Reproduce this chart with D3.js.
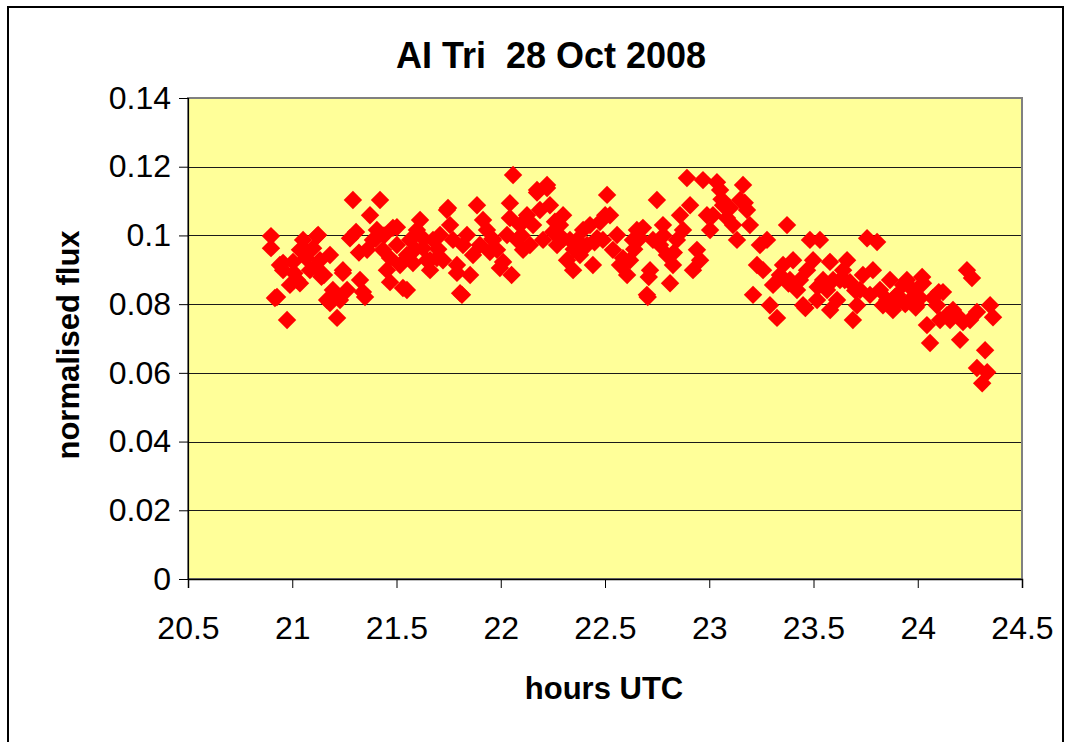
<!DOCTYPE html>
<html>
<head>
<meta charset="utf-8">
<script src="https://cdn.jsdelivr.net/npm/d3@7"></script>
<style>
  html, body { margin: 0; padding: 0; background: #ffffff; }
  svg { display: block; }
  text { font-family: "Liberation Sans", Arial, sans-serif; }
</style>
</head>
<body>
<svg id="chart" width="1074" height="742"></svg>
<script>
// ---- data ----
const title = "AI Tri  28 Oct 2008";
const xLabel = "hours UTC";
const yLabel = "normalised flux";
const xTicks = [20.5, 21, 21.5, 22, 22.5, 23, 23.5, 24, 24.5];
const xTickLabels = ["20.5", "21", "21.5", "22", "22.5", "23", "23.5", "24", "24.5"];
const yTicks = [0, 0.02, 0.04, 0.06, 0.08, 0.1, 0.12, 0.14];
const yTickLabels = ["0", "0.02", "0.04", "0.06", "0.08", "0.1", "0.12", "0.14"];

const hours = [
  20.898, 20.898, 20.917, 20.941, 20.956, 20.927, 20.975, 20.989, 21.004, 21.023,
  21.037, 21.052, 21.066, 21.085, 21.100, 21.119, 21.133, 21.152, 21.167, 21.181,
  21.195, 21.215, 21.229, 21.243, 21.263, 21.277, 21.291, 21.306, 21.325, 21.339,
  21.359, 21.373, 21.387, 21.406, 21.421, 21.435, 21.454, 21.469, 21.483, 21.502,
  21.517, 21.531, 21.550, 21.565, 21.579, 21.598, 21.613, 21.627, 21.646, 21.661,
  21.675, 21.694, 21.709, 21.723, 21.742, 21.757, 21.771, 21.790, 21.805, 21.819,
  21.838, 21.853, 21.867, 21.886, 21.900, 21.915, 21.934, 21.948, 21.963, 21.982,
  21.996, 22.011, 22.030, 22.044, 22.059, 22.078, 22.092, 22.107, 22.126, 22.140,
  22.155, 22.174, 22.188, 22.203, 22.222, 22.236, 22.251, 22.270, 22.284, 22.299,
  22.318, 22.332, 22.347, 22.366, 22.380, 22.395, 22.414, 22.428, 22.442, 22.462,
  22.476, 22.490, 22.510, 22.524, 22.538, 22.558, 22.572, 22.586, 22.606, 22.620,
  22.634, 22.653, 22.668, 22.682, 22.701, 22.716, 22.730, 22.749, 22.764, 22.778,
  22.797, 22.812, 22.826, 22.845, 22.860, 22.874, 22.893, 22.908, 22.922, 22.941,
  22.956, 22.970, 22.989, 23.004, 23.018, 23.037, 23.052, 23.066, 23.085, 23.100,
  23.114, 23.133, 23.148, 23.162, 23.181, 23.195, 23.210, 23.229, 23.243, 23.258,
  23.277, 23.291, 23.306, 23.325, 23.339, 23.354, 23.373, 23.387, 23.402, 23.421,
  23.435, 23.450, 23.469, 23.483, 23.498, 23.517, 23.531, 23.546, 23.565, 23.579,
  23.594, 23.613, 23.627, 23.642, 23.661, 23.675, 23.689, 23.709, 23.723, 23.737,
  23.757, 23.771, 23.785, 23.805, 23.819, 23.833, 23.853, 23.867, 23.881, 23.901,
  23.915, 23.929, 23.948, 23.963, 23.977, 23.996, 24.011, 24.025, 24.044, 24.059,
  24.073, 24.092, 24.107, 24.121, 24.140, 24.155, 24.169, 24.188, 24.203, 24.217,
  24.236, 24.251, 24.260, 24.284, 24.284, 24.309, 24.323, 24.333, 24.347, 24.361,
  21.349, 21.550, 21.814, 21.181, 21.124, 21.502, 21.747, 20.956, 21.037, 21.243,
  21.661, 21.790, 21.469, 23.059, 23.170, 23.461, 23.580, 22.044, 22.222, 22.174,
  22.592, 22.501, 22.052, 22.705, 22.710, 24.021, 24.101,
  21.010, 21.060, 21.110, 21.140, 21.320, 21.400, 21.440, 21.590, 21.630, 21.700,
  21.960, 22.100, 22.260, 22.300, 22.350, 22.450, 22.640, 22.780, 22.830, 23.380,
  23.520, 23.650, 23.700, 23.890, 23.940, 23.990
];
const flux = [
  0.0998, 0.0963, 0.0818, 0.0914, 0.0899, 0.0821, 0.0754, 0.0856, 0.0923, 0.0870,
  0.0958, 0.0987, 0.0934, 0.0899, 0.0963, 0.0998, 0.0928, 0.0885, 0.0812, 0.0943,
  0.0841, 0.0760, 0.0812, 0.0899, 0.0841, 0.0992, 0.1103, 0.1010, 0.0870, 0.0835,
  0.0958, 0.1059, 0.0987, 0.1016, 0.1103, 0.0958, 0.0899, 0.0934, 0.1022, 0.0972,
  0.0914, 0.0847, 0.0943, 0.0987, 0.0920, 0.1016, 0.1045, 0.0963, 0.0928, 0.0899,
  0.0987, 0.0934, 0.1001, 0.0928, 0.1074, 0.1030, 0.0987, 0.0914, 0.0832, 0.0972,
  0.1001, 0.0885, 0.0943, 0.1088, 0.0972, 0.1045, 0.1016, 0.0952, 0.0987, 0.0958,
  0.0905, 0.0923, 0.1001, 0.1051, 0.1176, 0.0987, 0.1030, 0.0958, 0.1059, 0.0972,
  0.1030, 0.1132, 0.1074, 0.0987, 0.1138, 0.1088, 0.1010, 0.0972, 0.1030, 0.1059,
  0.0928, 0.0987, 0.0899, 0.0987, 0.0943, 0.1016, 0.0972, 0.1030, 0.0914, 0.0992,
  0.1039, 0.0987, 0.1118, 0.1059, 0.0958, 0.1001, 0.0914, 0.0934, 0.0885, 0.0928,
  0.0987, 0.1016, 0.0992, 0.1022, 0.0827, 0.0899, 0.0987, 0.1103, 0.0972, 0.1030,
  0.0943, 0.0861, 0.0914, 0.0987, 0.1059, 0.1016, 0.1167, 0.1088, 0.0899, 0.0958,
  0.0928, 0.1161, 0.1059, 0.1016, 0.1059, 0.1155, 0.1132, 0.1088, 0.1051, 0.1080,
  0.1030, 0.0987, 0.1103, 0.1147, 0.1074, 0.1030, 0.0827, 0.0914, 0.0972, 0.0899,
  0.0987, 0.0797, 0.0856, 0.0760, 0.0885, 0.0914, 0.1030, 0.0870, 0.0928, 0.0841,
  0.0870, 0.0797, 0.0899, 0.0987, 0.0928, 0.0812, 0.0987, 0.0870, 0.0841, 0.0923,
  0.0870, 0.0812, 0.0870, 0.0899, 0.0928, 0.0864, 0.0754, 0.0797, 0.0841, 0.0885,
  0.0992, 0.0827, 0.0899, 0.0981, 0.0841, 0.0797, 0.0812, 0.0870, 0.0783, 0.0827,
  0.0812, 0.0856, 0.0870, 0.0812, 0.0841, 0.0797, 0.0818, 0.0861, 0.0739, 0.0687,
  0.0818, 0.0797, 0.0754, 0.0835, 0.0768, 0.0754, 0.0783, 0.0768, 0.0696, 0.0748,
  0.0899, 0.0754, 0.0876, 0.0777, 0.0614, 0.0570, 0.0666, 0.0602, 0.0797, 0.0762,
  0.0821, 0.0841, 0.0827, 0.0803, 0.1001, 0.1024, 0.1080, 0.0920, 0.0861, 0.0891,
  0.0928, 0.0891, 0.0864, 0.1105, 0.1095, 0.0789, 0.0783, 0.1094, 0.1147, 0.1125,
  0.0920, 0.1059, 0.0885, 0.0821, 0.0879, 0.0879, 0.0835,
  0.0890, 0.0960, 0.0910, 0.0880, 0.0950, 0.0990, 0.1000, 0.0960, 0.0990, 0.0960,
  0.0990, 0.1000, 0.1040, 0.0990, 0.0960, 0.0980, 0.0960, 0.1000, 0.0950, 0.0860,
  0.0850, 0.0870, 0.0840, 0.0820, 0.0800, 0.0790
];

// ---- layout ----
const svg = d3.select("#chart");
const plot = { left: 188, top: 98, right: 1022, bottom: 579 };

const x = d3.scaleLinear().domain([20.5, 24.5]).range([plot.left, plot.right]);
const y = d3.scaleLinear().domain([0, 0.14]).range([plot.bottom, plot.top]);

// outer chart frame
svg.append("rect")
  .attr("x", 8).attr("y", 7).attr("width", 1055).attr("height", 760)
  .attr("fill", "#ffffff").attr("stroke", "#000000").attr("stroke-width", 2);

// plot background
svg.append("rect")
  .attr("x", plot.left).attr("y", plot.top)
  .attr("width", plot.right - plot.left).attr("height", plot.bottom - plot.top)
  .attr("fill", "#FFFF99");

// gridlines
svg.append("g")
  .selectAll("line")
  .data(yTicks.filter(d => d > 0 && d < 0.14))
  .join("line")
  .attr("x1", plot.left).attr("x2", plot.right)
  .attr("y1", d => Math.round(y(d)) + 0.5).attr("y2", d => Math.round(y(d)) + 0.5)
  .attr("stroke", "#1a1a1a").attr("stroke-width", 1);

// plot border (grey)
svg.append("rect")
  .attr("x", plot.left).attr("y", plot.top)
  .attr("width", plot.right - plot.left).attr("height", plot.bottom - plot.top)
  .attr("fill", "none").attr("stroke", "#808080").attr("stroke-width", 2);

// points (diamonds)
const diamond = d3.symbol().type(d3.symbolSquare).size(170);
svg.append("g")
  .selectAll("path")
  .data(hours.map((h, i) => ({ h, f: flux[i] })))
  .join("path")
  .attr("d", diamond)
  .attr("transform", d => `translate(${x(d.h)},${y(d.f)}) rotate(45)`)
  .attr("fill", "#FF0000");

// axes
const yAxis = d3.axisLeft(y)
  .tickValues(yTicks)
  .tickFormat((d, i) => yTickLabels[i])
  .tickSize(9).tickPadding(8);
const gy = svg.append("g")
  .attr("transform", `translate(${plot.left},0)`)
  .call(yAxis);
gy.select(".domain").attr("stroke", "#000").attr("stroke-width", 1.2);
gy.selectAll(".tick line").attr("stroke", "#000");
gy.selectAll(".tick text")
  .attr("font-size", 32).attr("fill", "#000")
  .attr("font-family", "'Liberation Sans', Arial, sans-serif");

const xAxis = d3.axisBottom(x)
  .tickValues(xTicks)
  .tickFormat((d, i) => xTickLabels[i])
  .tickSize(9).tickPadding(28);
const gx = svg.append("g")
  .attr("transform", `translate(0,${plot.bottom})`)
  .call(xAxis);
gx.select(".domain").attr("stroke", "#000").attr("stroke-width", 1.5);
gx.selectAll(".tick line").attr("stroke", "#000");
gx.selectAll(".tick text")
  .attr("font-size", 32).attr("fill", "#000")
  .attr("font-family", "'Liberation Sans', Arial, sans-serif");

// title
svg.append("text")
  .attr("x", 551).attr("y", 68)
  .attr("text-anchor", "middle")
  .attr("font-size", 36).attr("font-weight", "bold")
  .style("white-space", "pre")
  .text(title);

// axis titles
svg.append("text")
  .attr("x", 604).attr("y", 699)
  .attr("text-anchor", "middle")
  .attr("font-size", 31).attr("font-weight", "bold")
  .text(xLabel);

svg.append("text")
  .attr("transform", `translate(79,345) rotate(-90)`)
  .attr("text-anchor", "middle")
  .attr("font-size", 31).attr("font-weight", "bold")
  .text(yLabel);
</script>
</body>
</html>
